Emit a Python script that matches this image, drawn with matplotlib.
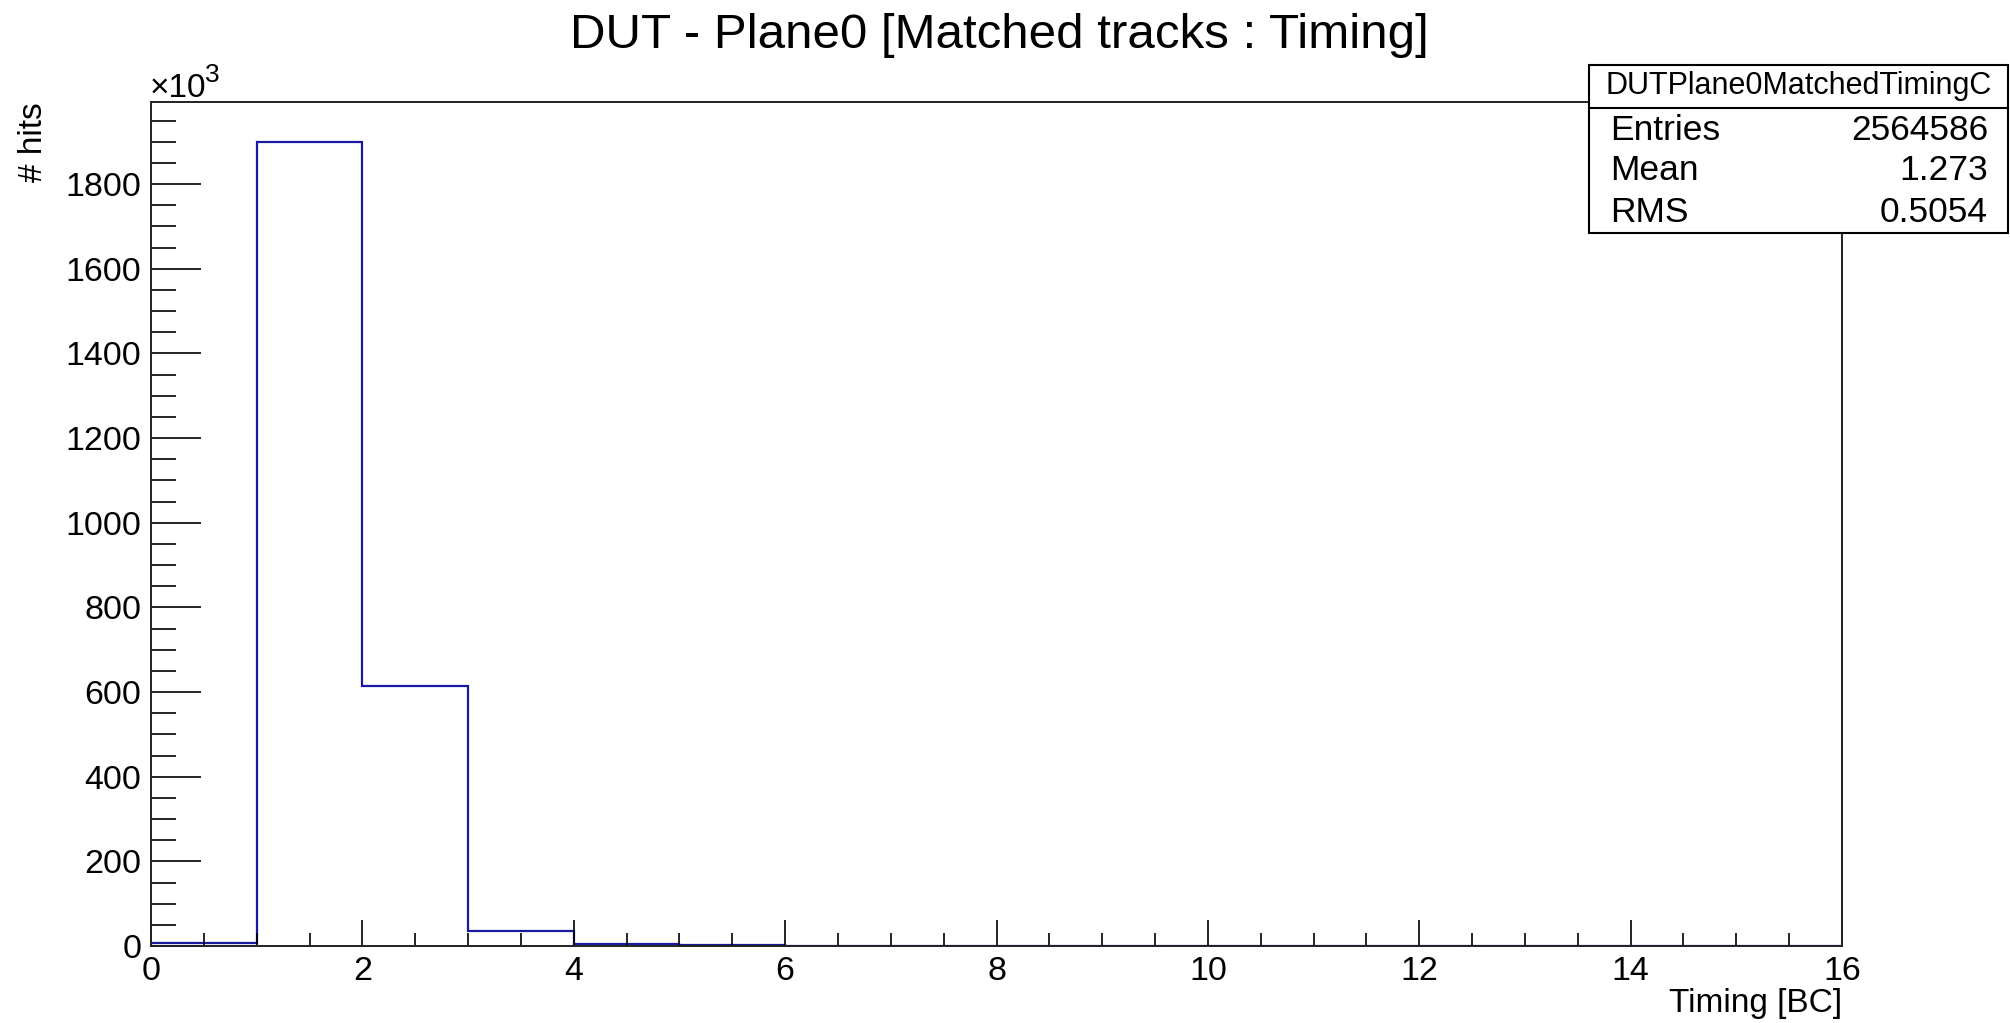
import matplotlib
matplotlib.use("Agg")
import matplotlib.pyplot as plt
from matplotlib.patches import Rectangle
from matplotlib.lines import Line2D
import numpy as np

# ---- data (counts in units of 10^3) ----
bin_edges = [0, 1, 2, 3, 4, 5, 6, 7, 8, 9, 10, 11, 12, 13, 14, 15, 16]
counts_k = [8, 1899, 615, 35, 5, 2, 0, 0, 0, 0, 0, 0, 0, 0, 0, 0]
x_ticks = [0, 2, 4, 6, 8, 10, 12, 14, 16]
y_ticks = [0, 200, 400, 600, 800, 1000, 1200, 1400, 1600, 1800]
title = "DUT - Plane0 [Matched tracks : Timing]"
xlabel = "Timing [BC]"
ylabel = "# hits"
stats_name = "DUTPlane0MatchedTimingC"
stats_labels = ["Entries", "Mean", "RMS"]
stats_values = ["2564586", "1.273", "0.5054"]

plt.rcParams['font.family'] = ['Liberation Sans', 'DejaVu Sans']

W, H = 2010, 1023
fig = plt.figure(figsize=(W / 100, H / 100), dpi=100)
ax = fig.add_axes([151 / W, 1 - 946 / H, (1842 - 151) / W, (946 - 102) / H])

ax.stairs(counts_k, bin_edges, color='#1a1aa0', lw=1.6, baseline=0)

ax.set_xlim(0, 16)
ax.set_ylim(0, max(counts_k) * 1.05)
ax.set_xticks(x_ticks)
ax.set_yticks(y_ticks)
ax.set_xticks(np.arange(0, 16.01, 0.5), minor=True)
ax.set_yticks(np.arange(0, 2000, 50), minor=True)

ax.tick_params(axis='both', which='both', direction='in', top=False, right=False,
               labelsize=24.5, color='black', width=1.2)
ax.tick_params(axis='x', which='major', length=18.7, pad=7)
ax.tick_params(axis='x', which='minor', length=9.4)
ax.tick_params(axis='y', which='major', length=36, pad=7)
ax.tick_params(axis='y', which='minor', length=18)

for s in ax.spines.values():
    s.set_linewidth(1.4)
    s.set_color('#222222')

ax.set_xlabel(xlabel, fontsize=24, loc='right')
ax.xaxis.label.set_va('baseline')
ax.xaxis.set_label_coords(1.0, (946 - 1012) / (946 - 102))
ax.set_ylabel(ylabel, fontsize=24, loc='top')
ax.yaxis.label.set_va('baseline')
ax.yaxis.set_label_coords((42 - 151) / (1842 - 151), 1.0)

fig.text(999 / W, 1 - 48 / H, title, fontsize=35.5, ha='center', va='baseline')

# x10^3 multiplier
fig.text(150 / W, 1 - 97 / H, "\u00d710", fontsize=24, ha='left', va='baseline')
fig.text(205 / W, 1 - 82 / H, "3", fontsize=19, ha='left', va='baseline')

# stats box
bx0, bx1, by0, by1, bdiv = 1589, 2008, 65, 233, 108
fig.add_artist(Rectangle((bx0 / W, 1 - by1 / H), (bx1 - bx0) / W, (by1 - by0) / H,
                         transform=fig.transFigure, facecolor='white',
                         edgecolor='black', lw=1.5, zorder=10))
fig.add_artist(Line2D([bx0 / W, bx1 / W], [1 - bdiv / H, 1 - bdiv / H],
                      transform=fig.transFigure, color='black', lw=1.5, zorder=11))
fig.text((bx0 + bx1) / 2 / W, 1 - 86 / H, stats_name, fontsize=22,
         ha='center', va='center', zorder=12)
row_y = [130, 170, 212]
for lab, val, yy in zip(stats_labels, stats_values, row_y):
    fig.text(1610 / W, 1 - yy / H, lab, fontsize=25.5, ha='left', va='center', zorder=12)
    fig.text(1988 / W, 1 - yy / H, val, fontsize=25.5, ha='right', va='center', zorder=12)

fig.savefig("out.png", dpi=100)
